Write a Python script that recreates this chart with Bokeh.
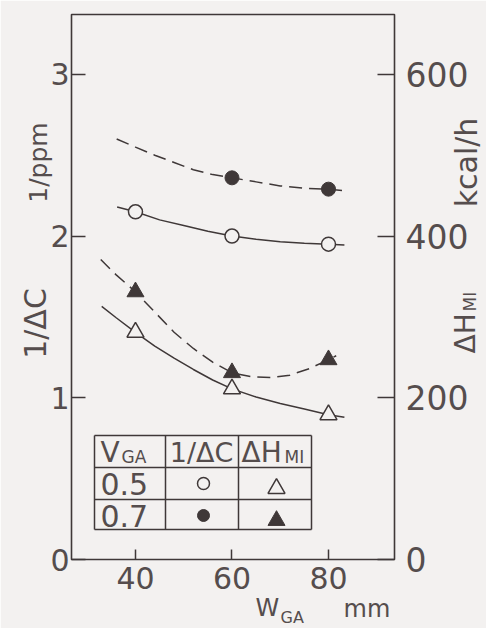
import math

from bokeh.core.properties import value
from bokeh.embed import file_html
from bokeh.models import FixedTicker, Label, LinearAxis, Range1d
from bokeh.plotting import figure
from bokeh.resources import INLINE

# ---- measured points: channel width W_GA (mm) ----
w_ga = [40, 60, 80]
inv_dc_v05 = [2.15, 2.00, 1.95]        # 1/ΔC (1/ppm), V_GA = 0.5
w_ga_v07 = [60, 80]
inv_dc_v07 = [2.36, 2.29]              # 1/ΔC (1/ppm), V_GA = 0.7
dh_v05 = [281, 211, 179]               # ΔH_MI (kcal/h), V_GA = 0.5
dh_v07 = [331, 231, 247]               # ΔH_MI (kcal/h), V_GA = 0.7

# ---- hand-drawn trend curves ----
fit_dc05_x = [36.2, 40, 45, 50, 55, 60, 65, 70, 75, 80, 83.3]
fit_dc05_y = [2.18, 2.15, 2.10, 2.065, 2.03, 2.00, 1.98, 1.965, 1.955, 1.95, 1.945]
fit_dc07_x = [36.1, 40, 44, 48, 52, 56, 60, 65, 70, 75, 80, 83.2]
fit_dc07_y = [2.60, 2.55, 2.50, 2.455, 2.41, 2.38, 2.36, 2.335, 2.31, 2.295, 2.29, 2.28]
fit_dh05_x = [33.0, 36, 40, 44, 48, 52, 56, 60, 65, 70, 75, 80, 83.3]
fit_dh05_y = [313, 299, 281, 264, 249, 235, 222, 211, 201, 193, 186, 179, 176]
fit_dh07_x = [32.8, 36, 40, 44, 48, 52, 56, 60, 64, 68, 72, 76, 80, 81.6]
fit_dh07_y = [371, 352, 331, 306, 281, 261, 244, 231, 226, 225, 228, 236, 247, 252]

# ---- axis ticks ----
x_ticks = [40, 60, 80]
left_ticks = [0, 1, 2, 3]
right_ticks = [0, 200, 400, 600]

# ---- styling ----
BG = "#f3f1f0"
INK = "#3f3838"
TEXT = "#554d4d"
FONT = "DejaVu Sans"
UP = math.pi / 2

W, H = 486, 628
FL, FR, FT, FB = 71, 394, 14, 559          # frame edges in page pixels
X0, X1 = 26.74, 93.68
Y0, Y1 = 0.0, 3.37
DH_MAX = Y1 * 200


def dx(px):
    return X0 + (px - FL) * (X1 - X0) / (FR - FL)


def dy(py):
    return Y0 + (FB - py) * (Y1 - Y0) / (FB - FT)


p = figure(
    width=W, height=H,
    x_range=Range1d(X0, X1), y_range=Range1d(Y0, Y1),
    output_backend="svg", toolbar_location=None,
    min_border_left=FL, min_border_right=W - FR,
    min_border_top=FT, min_border_bottom=H - FB,
    background_fill_color=BG, border_fill_color=BG,
    outline_line_color=INK, outline_line_width=1.6,
)
p.extra_y_ranges = {"dh": Range1d(0, DH_MAX)}
p.xgrid.visible = False
p.ygrid.visible = False


def style_axis(ax, ticks, tick_in, standoff, size):
    ax.ticker = FixedTicker(ticks=ticks)
    ax.minor_tick_line_color = None
    ax.axis_line_color = None
    ax.major_tick_in = tick_in
    ax.major_tick_out = 0
    ax.major_tick_line_color = INK
    ax.major_tick_line_width = 1.5
    ax.major_label_standoff = standoff
    ax.major_label_text_font = FONT
    ax.major_label_text_font_size = size
    ax.major_label_text_color = TEXT


style_axis(p.xaxis[0], x_ticks, 10, 7, "30px")
style_axis(p.yaxis[0], left_ticks, 14, 2, "30px")
right_axis = LinearAxis(y_range_name="dh")
style_axis(right_axis, right_ticks, 17, 11, "33px")
p.add_layout(right_axis, "right")

# ---- trend curves ----
p.line(fit_dc05_x, fit_dc05_y, line_color=INK, line_width=1.5)
p.line(fit_dc07_x, fit_dc07_y, line_color=INK, line_width=1.5, line_dash="13 7")
p.line(fit_dh05_x, fit_dh05_y, line_color=INK, line_width=1.5, y_range_name="dh")
p.line(fit_dh07_x, fit_dh07_y, line_color=INK, line_width=1.5, line_dash="13 7",
       y_range_name="dh")

# ---- measured points ----
p.scatter(w_ga, inv_dc_v05, marker="circle", size=14, fill_color=BG,
          line_color=INK, line_width=1.5)
p.scatter(w_ga_v07, inv_dc_v07, marker="circle", size=14, fill_color=INK,
          line_color=INK, line_width=1)
p.scatter(w_ga, dh_v05, marker="triangle", size=17, fill_color=BG,
          line_color=INK, line_width=1.5, y_range_name="dh")
p.scatter(w_ga, dh_v07, marker="triangle", size=17, fill_color=INK,
          line_color=INK, line_width=1, y_range_name="dh")

# ---- key table ----
t_cols = [94, 165, 238, 311]
t_rows = [435, 467, 499, 529]
p.segment(x0=[dx(t_cols[0])] * 4, x1=[dx(t_cols[-1])] * 4,
          y0=[dy(r) for r in t_rows], y1=[dy(r) for r in t_rows],
          line_color=INK, line_width=1.5)
p.segment(x0=[dx(c) for c in t_cols], x1=[dx(c) for c in t_cols],
          y0=[dy(t_rows[0])] * 4, y1=[dy(t_rows[-1])] * 4,
          line_color=INK, line_width=1.5)

p.scatter([dx(203)], [dy(483)], marker="circle", size=12, fill_color=BG,
          line_color=INK, line_width=1.5)
p.scatter([dx(203)], [dy(515)], marker="circle", size=12, fill_color=INK,
          line_color=INK, line_width=1)
p.scatter([dx(276)], [dy(488)], marker="triangle", size=17, fill_color=BG,
          line_color=INK, line_width=1.5)
p.scatter([dx(276)], [dy(520)], marker="triangle", size=17, fill_color=INK,
          line_color=INK, line_width=1)


def put(px, base, text, size, align="left"):
    # table text; base is the wanted baseline in page pixels
    p.add_layout(Label(
        x=dx(px), y=dy(base - 0.4 * size), text=text,
        text_font=FONT, text_font_size=f"{size}px", text_color=TEXT,
        text_align=align, text_baseline="alphabetic",
    ))


put(100, 463, "V", 28)
put(121, 463, "GA", 17)
put(201, 463, "1/ΔC", 27, align="center")
put(241, 463, "ΔH", 28)
put(284, 463, "MI", 17)
put(100, 495, "0.5", 30)
put(100, 527, "0.7", 30)


def side_text(base_x, py, text, size, align="left"):
    # axis title reading upwards, baseline at base_x (page pixels)
    p.text(
        x=[dx(base_x - 0.4 * size)], y=[dy(py)], text=[text], angle=UP,
        text_font=value(FONT), text_font_size=value(f"{size}px"),
        text_color=TEXT, text_align=align, text_baseline="alphabetic",
        level="overlay",
    )


def below_text(px, base_y, text, size):
    # axis title under the frame, baseline at base_y (page pixels)
    p.text(
        x=[dx(px)], y=[dy(base_y - 0.4 * size)], text=[text],
        text_font=value(FONT), text_font_size=value(f"{size}px"),
        text_color=TEXT, text_align="left", text_baseline="alphabetic",
        level="overlay",
    )


# left title: 1/ΔC ... 1/ppm
side_text(47, 323, "1/ΔC", 30, align="center")
side_text(48, 162, "1/ppm", 25, align="center")
# right title: ΔH_MI ... kcal/h
side_text(476, 353, "ΔH", 28)
side_text(476, 311, "MI", 17)
side_text(478, 162, "kcal/h", 30, align="center")
# bottom title: W_GA ... mm
below_text(255, 617, "W", 24)
below_text(280, 623, "GA", 16)
below_text(343, 618, "mm", 24)

open("out.html", "w").write(file_html(p, INLINE))
